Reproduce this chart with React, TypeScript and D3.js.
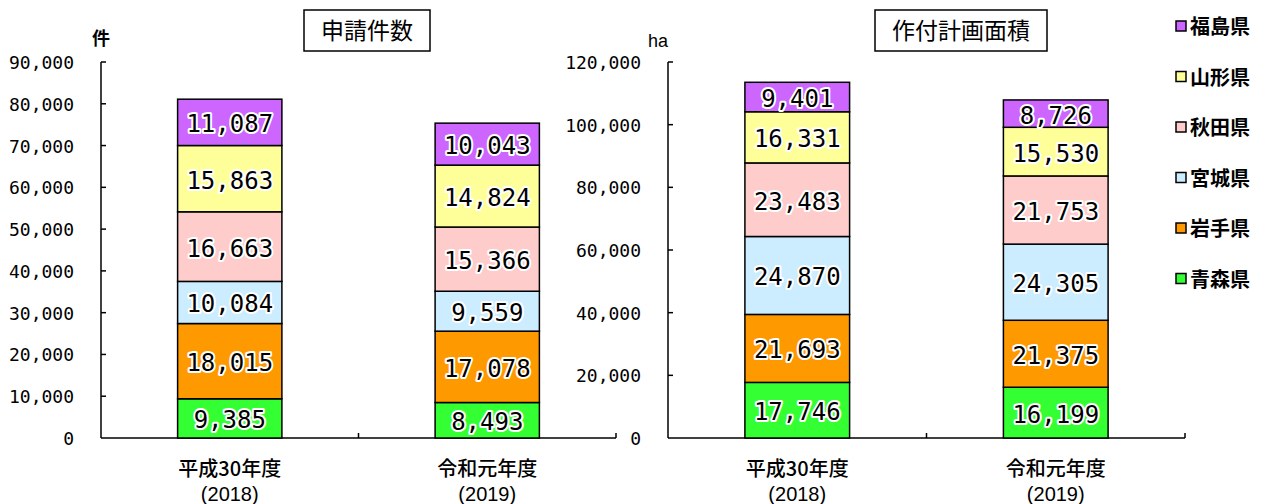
import React from "react";
import * as d3 from "d3";

const prefectures = ["青森県", "岩手県", "宮城県", "秋田県", "山形県", "福島県"];
const colors = ["#33FF33", "#FF9900", "#CCECFF", "#FFCCCC", "#FFFF99", "#CC66FF"];
const years = ["平成30年度", "令和元年度"];
const yearsWestern = ["(2018)", "(2019)"];

const applications2018 = [9385, 18015, 10084, 16663, 15863, 11087];
const applications2019 = [8493, 17078, 9559, 15366, 14824, 10043];
const area2018 = [17746, 21693, 24870, 23483, 16331, 9401];
const area2019 = [16199, 21375, 24305, 21753, 15530, 8726];

const leftTicks = [0, 10000, 20000, 30000, 40000, 50000, 60000, 70000, 80000, 90000];
const rightTicks = [0, 20000, 40000, 60000, 80000, 100000, 120000];

const fmt = (v: number) => (v === 0 ? "0" : d3.format(",")(v));
const NUM_FONT = "'DejaVu Sans Mono', monospace";
const SANS_FONT = "'Liberation Sans', Arial, sans-serif";
const JP_FONT = "'Noto Sans CJK JP', sans-serif";

type PanelProps = {
  x0: number;
  x1: number;
  yTop: number;
  yBottom: number;
  max: number;
  ticks: number[];
  series: number[][];
  title: string;
  titleBox: [number, number, number, number];
  unit: string;
  unitX: number;
  unitY: number;
  unitFont: string;
};

function Panel(p: PanelProps) {
  const y = d3.scaleLinear().domain([0, p.max]).range([p.yBottom, p.yTop]);
  const x = d3.scaleBand<number>().domain([0, 1]).range([p.x0, p.x1]).paddingInner(0).paddingOuter(0);
  const bw = x.bandwidth() * 0.405;
  const stacks = p.series.map((vals) => {
    let acc = 0;
    return vals.map((v) => {
      const s = acc;
      acc += v;
      return [s, acc];
    });
  });
  return (
    <g>
      <rect x={p.titleBox[0]} y={p.titleBox[1]} width={p.titleBox[2]} height={p.titleBox[3]} fill="white" stroke="black" strokeWidth={1.5} />
      <text x={p.titleBox[0] + p.titleBox[2] / 2} y={p.titleBox[1] + p.titleBox[3] / 2 + 8} textAnchor="middle" fontSize={23} fontFamily={JP_FONT} fill="black">
        {p.title}
      </text>
      <text x={p.unitX} y={p.unitY} textAnchor="middle" fontSize={18} fontWeight={p.unitFont === JP_FONT ? "bold" : "normal"} fontFamily={p.unitFont} fill="black">
        {p.unit}
      </text>
      <line x1={p.x0} x2={p.x0} y1={p.yTop} y2={p.yBottom} stroke="black" strokeWidth={1.5} />
      {p.ticks.map((t) => (
        <g key={t}>
          {t > 0 && <line x1={p.x0} x2={p.x0 + 5} y1={y(t)} y2={y(t)} stroke="black" strokeWidth={1.5} />}
          <text x={p.x0 - 27} y={y(t) + 7} textAnchor="end" fontSize={18} fontFamily={NUM_FONT} fill="black">
            {fmt(t)}
          </text>
        </g>
      ))}
      <line x1={p.x0} x2={p.x1} y1={p.yBottom} y2={p.yBottom} stroke="black" strokeWidth={1.5} />
      {[1, 2].map((i) => {
        const xx = p.x0 + x.bandwidth() * i;
        return <line key={i} x1={xx} x2={xx} y1={p.yBottom} y2={p.yBottom - 5} stroke="black" strokeWidth={1.5} />;
      })}
      {stacks.map((st, ci) => {
        const cx = (x(ci) as number) + x.bandwidth() / 2;
        return (
          <g key={ci}>
            {st.map(([a, b], si) => (
              <rect key={si} x={cx - bw / 2} y={y(b)} width={bw} height={y(a) - y(b)} fill={colors[si]} stroke="black" strokeWidth={1.5} />
            ))}
            {st.map(([a, b], si) => (
              <text
                key={"t" + si}
                x={cx}
                y={(y(a) + y(b)) / 2 + 10}
                textAnchor="middle"
                fontSize={24}
                fontFamily={NUM_FONT}
                fill="black"
                stroke="white"
                strokeWidth={4}
                strokeLinejoin="round"
                paintOrder="stroke"
              >
                {fmt(p.series[ci][si])}
              </text>
            ))}
            <text x={cx} y={p.yBottom + 38} textAnchor="middle" fontSize={20} fontWeight={500} fontFamily={JP_FONT} fill="black">
              {years[ci]}
            </text>
            <text x={cx} y={p.yBottom + 63} textAnchor="middle" fontSize={20} fontFamily={SANS_FONT} fill="black">
              {yearsWestern[ci]}
            </text>
          </g>
        );
      })}
    </g>
  );
}

export default function App() {
  const legendOrder = [5, 4, 3, 2, 1, 0];
  return (
    <svg width={1264} height={504} style={{ position: "absolute", left: 0, top: 0, background: "white" }}>
      <rect width={1264} height={504} fill="white" />
      <Panel
        x0={101}
        x1={616}
        yTop={62}
        yBottom={438}
        max={90000}
        ticks={leftTicks}
        series={[applications2018, applications2019]}
        title="申請件数"
        titleBox={[304, 10, 126, 41]}
        unit="件"
        unitX={101}
        unitY={45}
        unitFont={JP_FONT}
      />
      <Panel
        x0={668}
        x1={1185}
        yTop={62}
        yBottom={438}
        max={120000}
        ticks={rightTicks}
        series={[area2018, area2019]}
        title="作付計画面積"
        titleBox={[875, 10, 172, 41]}
        unit="ha"
        unitX={658}
        unitY={47}
        unitFont={SANS_FONT}
      />
      {legendOrder.map((si, i) => (
        <g key={si}>
          <rect x={1176} y={21 + i * 50.5} width={10} height={10} fill={colors[si]} stroke="black" strokeWidth={1.5} />
          <text x={1190} y={34 + i * 50.5} fontSize={20} fontWeight="bold" fontFamily={JP_FONT} fill="black">
            {prefectures[si]}
          </text>
        </g>
      ))}
    </svg>
  );
}
